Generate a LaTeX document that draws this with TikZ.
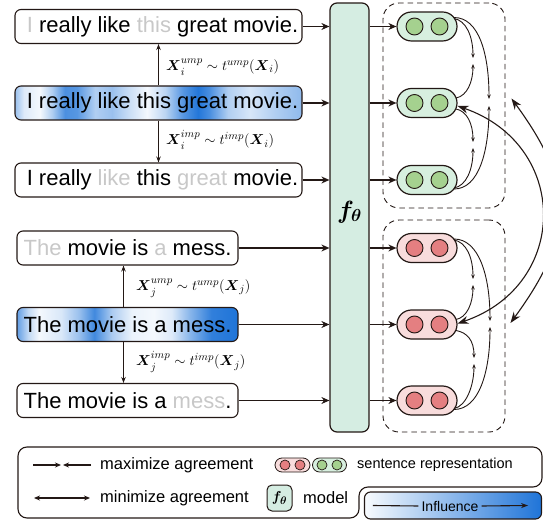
\documentclass[tikz,border=0pt]{standalone}
\usepackage{amsmath}
\usepackage{fontspec}
\setmainfont{Liberation Sans}
\usetikzlibrary{arrows.meta,shapes.misc,calc}

\definecolor{ink}{HTML}{231815}
\definecolor{mint}{HTML}{D5EDE2}
\definecolor{greenfill}{HTML}{D7EFDF}
\definecolor{greendot}{HTML}{A5D18F}
\definecolor{redfill}{HTML}{F8DCDC}
\definecolor{reddot}{HTML}{E47F81}
\definecolor{faded}{HTML}{C8C8C8}
\definecolor{deepblue}{HTML}{1F74D8}

% attention-style highlight behind the anchor sentences (box spans 25bp..75bp)
\pgfdeclarehorizontalshading{hlA}{100bp}{%
  color(0bp)=(deepblue!45!white); color(25bp)=(deepblue!45!white);
  color(26.55bp)=(deepblue!15!white); color(29.35bp)=(deepblue!5!white);
  color(31.45bp)=(deepblue!35!white); color(33.7bp)=(deepblue!80!white);
  color(35.8bp)=(deepblue!75!white); color(38.95bp)=(deepblue!35!white);
  color(41.9bp)=(deepblue!45!white); color(44.7bp)=(deepblue!25!white);
  color(48bp)=(deepblue!5!white); color(51.15bp)=(deepblue!30!white);
  color(54.25bp)=(deepblue!75!white); color(56.9bp)=(deepblue!98!white);
  color(58.95bp)=(deepblue!80!white); color(62.1bp)=(deepblue!35!white);
  color(65.95bp)=(deepblue!18!white); color(70.3bp)=(deepblue!35!white);
  color(75bp)=(deepblue!50!white); color(100bp)=(deepblue!50!white)}
\pgfdeclarehorizontalshading{hlB}{100bp}{%
  color(0bp)=(deepblue!70!white); color(25bp)=(deepblue!70!white);
  color(27.5bp)=(deepblue!28!white); color(30bp)=(deepblue!5!white);
  color(35bp)=(deepblue!17!white); color(39bp)=(deepblue!45!white);
  color(42.5bp)=(deepblue!85!white); color(46.5bp)=(deepblue!37!white);
  color(51bp)=(deepblue!9!white); color(56bp)=(deepblue!5!white);
  color(60bp)=(deepblue!15!white); color(64bp)=(deepblue!52!white);
  color(69bp)=(deepblue!92!white); color(75bp)=(deepblue);
  color(100bp)=(deepblue)}

\begin{document}
\begin{tikzpicture}[x=1pt,y=-1pt,
  sent/.style={draw=ink, line width=1.1pt, rounded corners=6pt, minimum height=34pt,
    inner sep=0pt, text=black, font=\fontsize{22}{26}\selectfont},
  lbl/.style={anchor=west, inner sep=0pt, font=\fontsize{15.5}{18}\selectfont},
  netbox/.style={draw=ink, fill=mint, line width=1.2pt, rounded corners=7pt, inner sep=0pt},
  rep/.style={rounded rectangle, draw=ink, line width=1.2pt, minimum width=60pt,
    minimum height=29pt, inner sep=0pt},
  dot/.style={circle, draw=ink, line width=0.9pt, minimum size=17pt, inner sep=0pt},
  grp/.style={draw=ink, dash pattern=on 5.5pt off 4pt, line width=0.9pt,
    rounded corners=16pt, inner sep=0pt},
  feed/.style={draw=ink, line width=1.3pt, -{Stealth[length=8pt,width=7pt]}},
  aug/.style={draw=ink, line width=1.1pt, -{Stealth[length=6pt,width=4.5pt]}},
  agree/.style={draw=ink, line width=0.9pt, -{Stealth[length=4.5pt,width=3.5pt]}},
  rival/.style={draw=ink, line width=1.1pt,
    {Stealth[length=11pt,width=8pt]}-{Stealth[length=11pt,width=8pt]}},
  legarr/.style={draw=ink, line width=1.1pt, -{Stealth[length=6pt,width=5pt]}},
  legboth/.style={draw=ink, line width=1.1pt,
    {Stealth[length=6pt,width=5pt]}-{Stealth[length=6pt,width=5pt]}},
  legtxt/.style={anchor=west, inner sep=0pt, text=black, font=\fontsize{16.5}{19}\selectfont},
]
\useasboundingbox (0,0) rectangle (543,521);
\clip (0,0) rectangle (543,521);

% ---- sentences and their augmentations ----
\node[sent, minimum width=287pt] (s1) at (158.5,26.5)
  {\hspace*{8pt}\textcolor{faded}{I} really like \textcolor{faded}{this} great movie.};
\node[sent, minimum width=287pt, shade, shading=hlA] (s2) at (158.5,103)
  {\hspace*{8pt}I really like this great movie.};
\node[sent, minimum width=287pt] (s3) at (158.5,180)
  {\hspace*{8pt}I really \textcolor{faded}{like} this \textcolor{faded}{great} movie.};
\node[sent, minimum width=221pt] (s4) at (127.5,248)
  {\textcolor{faded}{The} movie is \textcolor{faded}{a} mess.};
\node[sent, minimum width=221pt, shade, shading=hlB] (s5) at (127.5,324.5)
  {The movie is a mess.};
\node[sent, minimum width=221pt] (s6) at (127.5,400.5)
  {The movie is a \textcolor{faded}{mess}.};

\draw[aug] (s2.north) -- (s1.south);
\draw[aug] (s2.south) -- (s3.north);
\draw[aug] ([xshift=-4pt]s5.north) -- ([xshift=-4pt]s4.south);
\draw[aug] ([xshift=-4pt]s5.south) -- ([xshift=-4pt]s6.north);

\node[lbl] (l1) at (166,67) {$\boldsymbol{X}_i^{ump}\sim t^{ump}(\boldsymbol{X}_i)$};
\node[lbl] (l2) at (166,140) {$\boldsymbol{X}_i^{imp}\sim t^{imp}(\boldsymbol{X}_i)$};
\node[lbl] (l3) at (136,288) {$\boldsymbol{X}_j^{ump}\sim t^{ump}(\boldsymbol{X}_j)$};
\node[lbl] (l4) at (136,362) {$\boldsymbol{X}_j^{imp}\sim t^{imp}(\boldsymbol{X}_j)$};

% ---- encoder ----
\node[netbox, minimum width=39pt, minimum height=429pt] (f) at (349.5,217.5) {};
\node[font=\fontsize{24}{28}\selectfont] (flab) at (349.5,212) {$\boldsymbol{f_{\theta}}$};

\foreach \s in {s1,s2,s3,s4,s5,s6}
  \draw[feed] (\s.east) -- (\s.east -| f.west);

% ---- representation groups ----
\node[grp, minimum width=122pt, minimum height=205pt] (G) at (444,105.5) {};
\node[grp, minimum width=122pt, minimum height=212pt] (R) at (444,326) {};

\foreach \n/\y in {g1/26.5, g2/103, g3/180} {
  \node[rep, fill=greenfill] (\n) at (427,\y) {};
  \node[dot, fill=greendot] (\n-a) at (414.5,\y) {};
  \node[dot, fill=greendot] (\n-b) at (439.5,\y) {};
}
\foreach \n/\y in {r1/248, r2/324.5, r3/400.5} {
  \node[rep, fill=redfill] (\n) at (427,\y) {};
  \node[dot, fill=reddot] (\n-a) at (414.5,\y) {};
  \node[dot, fill=reddot] (\n-b) at (439.5,\y) {};
}
\foreach \n in {g1,g2,g3,r1,r2,r3}
  \draw[feed] (f.east |- \n.west) -- (\n.west);

% pull-together arrows inside each group
\coordinate (gt12a) at (473,58);  \coordinate (gt12b) at (473,64);
\coordinate (gt23a) at (473,142); \coordinate (gt23b) at (473,148);
\coordinate (gt13a) at (489,99);  \coordinate (gt13b) at (489,106);
\draw[agree] ($(g1)+(27,-8)$) .. controls +(12,2) and +(0,-22) .. (gt12a);
\draw[agree] ($(g2)+(29,-5)$) .. controls +(11,-2) and +(0,18) .. (gt12b);
\draw[agree] ($(g2)+(29,6)$) .. controls +(11,2) and +(0,-18) .. (gt23a);
\draw[agree] ($(g3)+(27,8)$) .. controls +(12,-2) and +(0,22) .. (gt23b);
\draw[agree] ($(g1)+(27,-9)$) .. controls +(25,0) and +(0,-45) .. (gt13a);
\draw[agree] ($(g3)+(27,9)$) .. controls +(25,0) and +(0,45) .. (gt13b);

\coordinate (rt12a) at (473,279); \coordinate (rt12b) at (473,285);
\coordinate (rt23a) at (474,358); \coordinate (rt23b) at (474,364);
\coordinate (rt13a) at (490,321); \coordinate (rt13b) at (490,327);
\draw[agree] ($(r1)+(27,-8)$) .. controls +(12,2) and +(0,-22) .. (rt12a);
\draw[agree] ($(r2)+(29,-5)$) .. controls +(11,-2) and +(0,18) .. (rt12b);
\draw[agree] ($(r2)+(29,6)$) .. controls +(11,2) and +(0,-18) .. (rt23a);
\draw[agree] ($(r3)+(27,8)$) .. controls +(12,-2) and +(0,22) .. (rt23b);
\draw[agree] ($(r1)+(27,-9)$) .. controls +(25,0) and +(0,-45) .. (rt13a);
\draw[agree] ($(r3)+(27,9)$) .. controls +(25,0) and +(0,45) .. (rt13b);

% push-apart arrows between the two sentences
\draw[rival] ($(g2.east)+(0,3)$) .. controls (570,145) and (570,285) .. ($(r2.east)+(0,-1)$);
\draw[rival] ($(G.east)+(6,-7)$) .. controls (575,185) and (575,235) .. ($(R.east)+(5,-3)$);

% ---- legend ----
\draw[ink, line width=1.1pt, rounded corners=9pt]
  (18,447) -- (542,447) -- (542,487) -- (359,487) -- (359,518) -- (18,518) -- cycle;

\coordinate (ma1) at (33,465); \coordinate (ma2) at (61,465);
\coordinate (ma3) at (91,465); \coordinate (ma4) at (63,465);
\draw[legarr] (ma1) -- (ma2);
\draw[legarr] (ma3) -- (ma4);
\node[legtxt] (tmax) at (100,465) {maximize agreement};

\coordinate (mi1) at (34,498); \coordinate (mi2) at (90,498);
\draw[legboth] (mi1) -- (mi2);
\node[legtxt] (tmin) at (100,498) {minimize agreement};

\node[rep, minimum width=35pt, minimum height=14pt, line width=0.8pt, fill=redfill] (lr) at (292.5,465) {};
\node[dot, minimum size=10pt, line width=0.7pt, fill=reddot] (lr-a) at (285,465) {};
\node[dot, minimum size=10pt, line width=0.7pt, fill=reddot] (lr-b) at (300,465) {};
\node[rep, minimum width=34pt, minimum height=14pt, line width=0.8pt, fill=greenfill] (lg) at (329.5,465) {};
\node[dot, minimum size=10pt, line width=0.7pt, fill=greendot] (lg-a) at (322,465) {};
\node[dot, minimum size=10pt, line width=0.7pt, fill=greendot] (lg-b) at (337,465) {};
\node[legtxt, font=\fontsize{14.5}{17}\selectfont] (trep) at (357,465) {sentence representation};

\node[netbox, minimum width=25pt, minimum height=26pt, rounded corners=5pt, line width=1pt,
  font=\fontsize{15}{18}\selectfont] (lf) at (279.5,498) {$\boldsymbol{f_{\theta}}$};
\node[legtxt] (tmod) at (303,498) {model};

\node[draw=ink, line width=1.1pt, rounded corners=6pt, left color=deepblue!3!white,
  right color=deepblue, minimum width=177pt, minimum height=27pt, inner sep=0pt]
  (inf) at (453,505.5) {};
\node[font=\fontsize{14}{17}\selectfont, inner sep=3pt, text=black] (inft) at (450,506) {Influence};
\draw[ink, line width=1.1pt] ($(inf.west)+(9,0)$) -- (inft.west);
\draw[ink, line width=1.1pt, -{Stealth[length=7pt,width=5pt]}] (inft.east) -- ($(inf.east)+(-14,0)$);
\end{tikzpicture}
\end{document}
